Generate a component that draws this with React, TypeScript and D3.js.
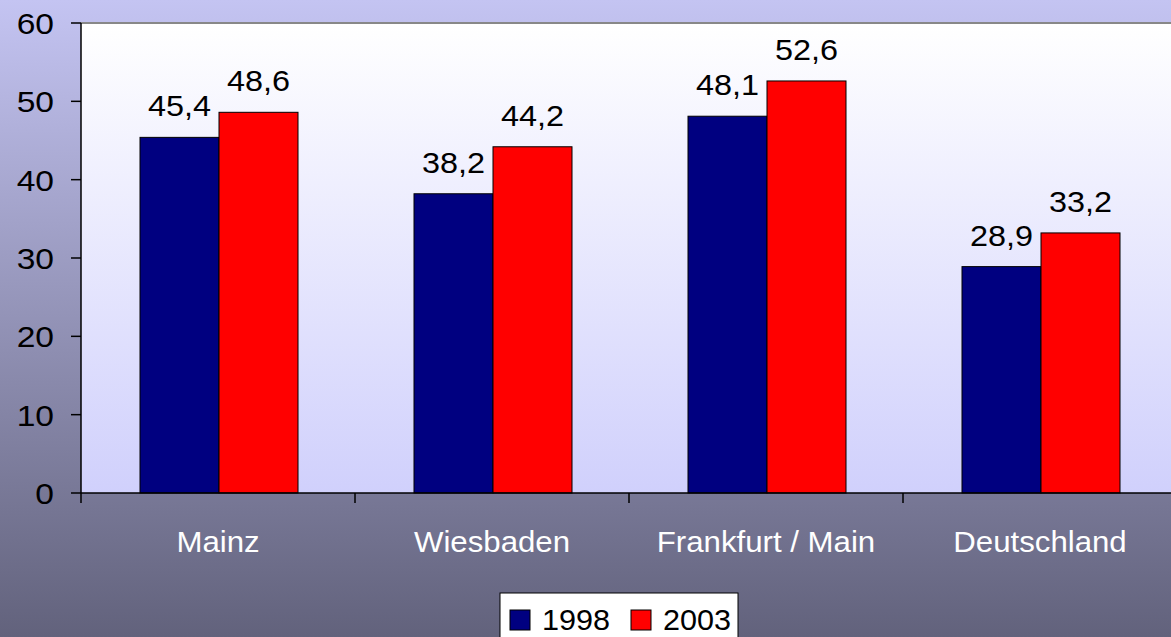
import React from "react";
import * as d3 from "d3";

const categories = ["Mainz", "Wiesbaden", "Frankfurt / Main", "Deutschland"];
const series = ["1998", "2003"];
const values1998 = [45.4, 38.2, 48.1, 28.9];
const values2003 = [48.6, 44.2, 52.6, 33.2];
const yTicks = [0, 10, 20, 30, 40, 50, 60];
const colors = ["#000080", "#ff0000"];

const W = 1171;
const H = 637;
const left = 81;
const top = 23;
const bottom = 493;
const band = 274;
const sx = 1.08; // the original is a little stretched horizontally

const fmt = (v: number) => d3.format(".1f")(v).replace(".", ",");

const Label = ({ x, y, anchor, size, fill, stretch, children }: any) => (
  <text
    transform={`translate(${x},${y}) scale(${stretch},1)`}
    textAnchor={anchor}
    fontSize={size}
    fill={fill}
  >
    {children}
  </text>
);

const App = () => {
  const x = d3
    .scaleBand<string>()
    .domain(categories)
    .range([left, left + band * categories.length]);
  const xInner = d3
    .scaleBand<string>()
    .domain(series)
    .range([59, band - 57]);
  const y = d3.scaleLinear().domain([0, 60]).range([bottom, top]);
  const all = [values1998, values2003];

  return (
    <svg
      width={W}
      height={H}
      style={{ position: "fixed", left: 0, top: 0, display: "block" }}
      fontFamily="'Liberation Sans', Arial, sans-serif"
    >
      <defs>
        <linearGradient id="bg" x1="0" y1="0" x2="0" y2="1">
          <stop offset="0" stopColor="#c4c4f2" />
          <stop offset="1" stopColor="#62627c" />
        </linearGradient>
        <linearGradient id="plot" x1="0" y1="0" x2="0" y2="1">
          <stop offset="0" stopColor="#ffffff" />
          <stop offset="1" stopColor="#d0d0fc" />
        </linearGradient>
      </defs>
      <rect width={W} height={H} fill="url(#bg)" />
      <rect x={left} y={top} width={W - left + 10} height={bottom - top} fill="url(#plot)" />
      <line x1={left} x2={W} y1={top} y2={top} stroke="#888" strokeWidth={2} />

      {categories.map((c, i) => (
        <g key={c}>
          {all.map((vals, s) => {
            const bx = (x(c) as number) + (xInner(series[s]) as number);
            const bw = xInner.bandwidth();
            return (
              <g key={s}>
                <rect
                  x={bx}
                  y={y(vals[i])}
                  width={bw}
                  height={bottom - y(vals[i])}
                  fill={colors[s]}
                  stroke="#000"
                  strokeWidth={1}
                />
                <Label x={bx + bw / 2} y={y(vals[i]) - 21} anchor="middle" size={30} fill="#000" stretch={sx}>
                  {fmt(vals[i])}
                </Label>
              </g>
            );
          })}
          <Label x={(x(c) as number) + band / 2} y={552} anchor="middle" size={30} fill="#fff" stretch={1.04}>
            {c}
          </Label>
        </g>
      ))}

      {/* axes */}
      <line x1={left} x2={W} y1={bottom} y2={bottom} stroke="#000" strokeWidth={1.5} />
      <line x1={left} x2={left} y1={top} y2={bottom + 10} stroke="#000" strokeWidth={1.5} />
      {categories.slice(1).map((c) => (
        <line
          key={c}
          x1={x(c) as number}
          x2={x(c) as number}
          y1={bottom}
          y2={bottom + 10}
          stroke="#000"
          strokeWidth={1.5}
        />
      ))}
      {yTicks.map((t) => (
        <g key={t}>
          <line x1={left - 10} x2={left} y1={y(t)} y2={y(t)} stroke="#000" strokeWidth={1.5} />
          <Label x={54} y={y(t) + 11} anchor="end" size={30} fill="#000" stretch={1.12}>
            {t}
          </Label>
        </g>
      ))}

      {/* legend */}
      <rect x={500} y={593} width={238} height={50} fill="#fff" stroke="#000" strokeWidth={1} />
      {series.map((s, i) => (
        <g key={s} transform={`translate(${510 + i * 121},610)`}>
          <rect width={20} height={20} fill={colors[i]} stroke="#000" strokeWidth={1} />
          <Label x={32} y={20} anchor="start" size={30} fill="#000" stretch={1.02}>
            {s}
          </Label>
        </g>
      ))}
    </svg>
  );
};

export default App;
